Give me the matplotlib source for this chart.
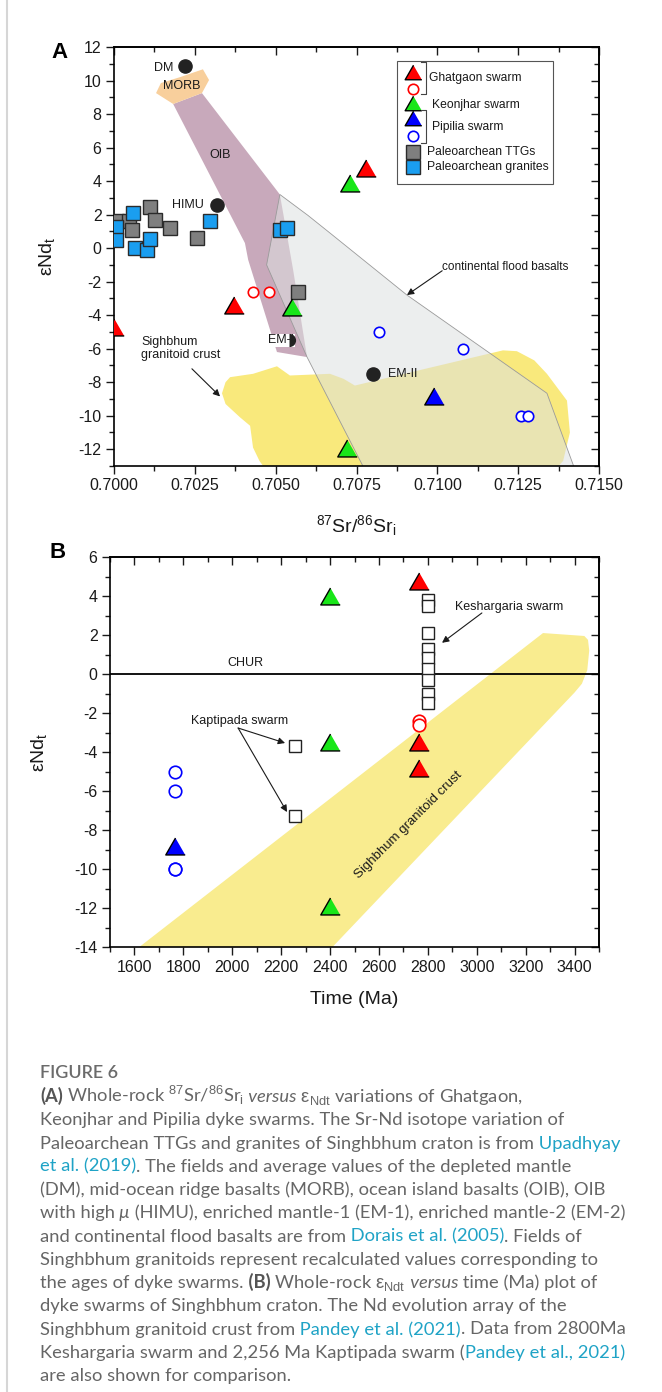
import numpy as np
import matplotlib.pyplot as plt
from matplotlib.patches import Polygon, Rectangle
from matplotlib.lines import Line2D
from matplotlib.ticker import MultipleLocator, FormatStrFormatter

plt.rcParams['font.family'] = ['Liberation Sans', 'DejaVu Sans']
plt.rcParams['mathtext.fontset'] = 'custom'
plt.rcParams['mathtext.rm'] = 'Liberation Sans'
plt.rcParams['mathtext.it'] = 'Liberation Sans:italic'
plt.rcParams['mathtext.bf'] = 'Liberation Sans:bold'
plt.rcParams['axes.unicode_minus'] = False

# ---------------- (A) 87Sr/86Sr_i vs eNd_t ----------------
ghat_tri_sr = [0.7078, 0.7037, 0.7000]
ghat_tri_nd = [4.8, -3.4, -4.7]
ghat_ring_sr = [0.7043, 0.7048]
ghat_ring_nd = [-2.6, -2.6]
keon_sr = [0.7073, 0.7055, 0.7072]
keon_nd = [3.9, -3.5, -11.9]
pip_tri_sr = [0.7099]
pip_tri_nd = [-8.8]
pip_ring_sr = [0.7082, 0.7108, 0.7126, 0.7128]
pip_ring_nd = [-5.0, -6.0, -10.0, -10.0]
ttg_sr = [0.7001, 0.70045, 0.70055, 0.70111, 0.70127, 0.70173, 0.70256, 0.70569]
ttg_nd = [1.6, 1.6, 1.1, 2.45, 1.7, 1.2, 0.6, -2.6]
gran_sr = [0.70005, 0.70005, 0.70058, 0.70065, 0.70101, 0.70111, 0.70297, 0.70513, 0.70535]
gran_nd = [1.25, 0.5, 2.1, 0.0, -0.1, 0.55, 1.6, 1.1, 1.2]

# mantle end-members
dm = (0.7022, 10.85)
himu = (0.7032, 2.6)
em1 = (0.7054, -5.5)
em2 = (0.7080, -7.5)

# fields
morb_sr = [0.7013, 0.70145, 0.70204, 0.70275, 0.70294, 0.70272, 0.70183]
morb_nd = [9.25, 9.85, 10.2, 10.67, 10.03, 9.25, 8.6]
oib_sr = [0.70183, 0.70272, 0.70513, 0.70554, 0.70597, 0.70504, 0.70415, 0.70405]
oib_nd = [8.6, 9.25, 3.2, -1.3, -6.5, -6.2, -0.7, 0.3]
cfb_sr = [0.70513, 0.70600, 0.70668, 0.70906, 0.71339, 0.71431, 0.70783, 0.70597, 0.70472]
cfb_nd = [3.2, 1.95, 0.9, -2.8, -8.66, -13.5, -13.5, -6.5, -1.0]
crust_sr = [0.70334, 0.70345, 0.70359, 0.7043, 0.70504, 0.70544, 0.70668, 0.70710, 0.70745,
            0.71203, 0.71246, 0.71300, 0.71339, 0.71401, 0.71410, 0.71389, 0.7135,
            0.70480, 0.70450, 0.7043, 0.70421, 0.7039, 0.70345]
crust_nd = [-8.66, -8.0, -7.7, -7.5, -7.05, -7.6, -7.5, -7.8, -8.2,
            -6.1, -6.15, -6.7, -7.5, -9.1, -11.0, -12.7, -13.5,
            -13.5, -12.7, -11.9, -10.6, -10.1, -9.3]

# ---------------- (B) eNd_t vs time ----------------
ghat_age = 2762
ghat_tri_b = [4.75, -3.5, -4.8]
ghat_ring_b = [-2.4, -2.6]
keon_age = 2400
keon_b = [4.0, -3.5, -11.9]
pip_age = 1765
pip_tri_b = [-8.8]
pip_ring_b = [-5.0, -6.0, -10.0, -10.0]
kesh_age = 2800
kesh_nd = [3.8, 3.5, 2.1, 1.3, 0.8, 0.25, -0.3, -1.0, -1.5]
kapt_age = 2256
kapt_nd = [-3.7, -7.3]
band_age = [1620, 3271, 3440, 3455, 3460, 3452, 3430, 3400, 2410]
band_nd = [-14, 2.1, 1.95, 1.75, 1.2, 0.2, -0.5, -0.95, -14]

RED, GREEN, BLUE = '#ff0000', '#19e619', '#0000ff'
TTG_C, GRAN_C = '#7f7f7f', '#1a9ef0'
DARK = '#1a1a1a'
TRI = [(0, 0.87), (-1, -0.87), (1, -0.87)]

W, H = 662, 1392
fig = plt.figure(figsize=(W / 100, H / 100), dpi=100)


def box(l, t, r, b):
    return [l / W, 1 - b / H, (r - l) / W, (b - t) / H]


def frame(ax, xmaj, xmin, ymaj, ymin):
    ax.xaxis.set_major_locator(MultipleLocator(xmaj))
    ax.xaxis.set_minor_locator(MultipleLocator(xmin))
    ax.yaxis.set_major_locator(MultipleLocator(ymaj))
    ax.yaxis.set_minor_locator(MultipleLocator(ymin))
    ax.tick_params(which='both', direction='out', width=1.0, color=DARK,
                   labelsize=11.5, labelcolor=DARK, pad=3)
    ax.tick_params(which='major', length=6)
    ax.tick_params(which='minor', length=3.5)
    for s in ax.spines.values():
        s.set_linewidth(1.2)
    top = ax.secondary_xaxis('top')
    top.xaxis.set_major_locator(MultipleLocator(xmaj))
    top.xaxis.set_minor_locator(MultipleLocator(xmin))
    right = ax.secondary_yaxis('right')
    right.yaxis.set_major_locator(MultipleLocator(ymaj))
    right.yaxis.set_minor_locator(MultipleLocator(ymin))
    for sec in (top, right):
        sec.tick_params(which='both', direction='in', width=1.0, color=DARK,
                        labeltop=False, labelright=False)
        sec.tick_params(which='major', length=6)
        sec.tick_params(which='minor', length=3.5)
        for s in sec.spines.values():
            s.set_linewidth(1.2)


arrow = dict(arrowstyle='-|>', lw=0.8, color=DARK, mutation_scale=10,
             shrinkA=0, shrinkB=0)

# ================= panel A =================
axA = fig.add_axes(box(114, 47, 599, 466))
axA.set_xlim(0.7000, 0.7150)
axA.set_ylim(-13, 12)
frame(axA, 0.0025, 0.00125, 2, 1)
axA.xaxis.set_major_formatter(FormatStrFormatter('%.4f'))

axA.add_patch(Polygon(list(zip(crust_sr, crust_nd)), closed=True, fc='#f9e97c', ec='none', zorder=1))
axA.add_patch(Polygon(list(zip(oib_sr, oib_nd)), closed=True, fc='#c8a9bb', ec='none', zorder=1.2))
axA.add_patch(Polygon(list(zip(morb_sr, morb_nd)), closed=True, fc='#f8cf9c', ec='none', zorder=1.3))
axA.add_patch(Polygon(list(zip(cfb_sr, cfb_nd)), closed=True, fc='#dde0e0', ec='none', alpha=0.55, zorder=1.5))
axA.add_patch(Polygon(list(zip(cfb_sr, cfb_nd)), closed=True, fill=False, ec='#9a9a9a', lw=0.6, zorder=1.6))

axA.plot(ttg_sr, ttg_nd, 's', ms=9.5, mfc=TTG_C, mec='#2b2b2b', mew=1.0, zorder=3)
axA.plot(gran_sr, gran_nd, 's', ms=9.5, mfc=GRAN_C, mec='#2b2b2b', mew=1.0, zorder=3.1)
axA.plot(ghat_ring_sr, ghat_ring_nd, 'o', ms=7.5, mfc='white', mec=RED, mew=1.2, zorder=3)
axA.plot(pip_ring_sr, pip_ring_nd, 'o', ms=7.5, mfc='white', mec=BLUE, mew=1.2, zorder=3)
axA.plot(ghat_tri_sr, ghat_tri_nd, marker=TRI, ls='none', ms=14, mfc=RED, mec='black', mew=1.0, zorder=4)
axA.plot(keon_sr, keon_nd, marker=TRI, ls='none', ms=14, mfc=GREEN, mec='black', mew=1.0, zorder=4)
axA.plot(pip_tri_sr, pip_tri_nd, marker=TRI, ls='none', ms=14, mfc=BLUE, mec='black', mew=1.0, zorder=4)

for pt in (dm, himu, em2):
    axA.plot(*pt, 'o', ms=9.5, color='#222222', zorder=4)
axA.text(0.70183, 10.75, 'DM', fontsize=9, ha='right', va='center', color=DARK, zorder=5)
axA.text(0.7021, 9.7, 'MORB', fontsize=9, ha='center', va='center', color=DARK, zorder=5)
axA.text(0.70328, 5.55, 'OIB', fontsize=9, ha='center', va='center', color=DARK, zorder=5)
axA.text(0.70278, 2.6, 'HIMU', fontsize=9, ha='right', va='center', color=DARK, zorder=5)
axA.text(0.70557, -5.5, 'EM-I', fontsize=9, ha='right', va='center', color=DARK, zorder=3,
         bbox=dict(fc='white', ec='none', pad=0.5))
axA.plot(*em1, 'o', ms=9.5, color='#222222', fillstyle='right', mew=0, zorder=4)
axA.text(0.70848, -7.5, 'EM-II', fontsize=9, ha='left', va='center', color=DARK, zorder=5)

axA.text(0.71015, -1.13, 'continental flood basalts', fontsize=8.5, ha='left', va='center', color=DARK)
axA.annotate('', xy=(0.70906, -2.8), xytext=(0.71015, -1.35), arrowprops=arrow)
axA.text(0.70084, -6.0, 'Sighbhum\ngranitoid crust', fontsize=9, ha='left', va='center',
         color=DARK, linespacing=1.15)
axA.annotate('', xy=(0.70328, -8.85), xytext=(0.70241, -7.2), arrowprops=arrow)

axA.set_xlabel(r'$^{87}$Sr/$^{86}$Sr$_\mathrm{i}$', fontsize=14, color=DARK)
axA.xaxis.set_label_coords(0.5, -0.113)
axA.set_ylabel(r'εNd$_\mathrm{t}$', fontsize=14, color=DARK)
axA.yaxis.set_label_coords(-0.118, 0.5)

# legend box
tA = axA.transAxes
axA.add_patch(Rectangle((0.583, 0.673), 0.322, 0.294, transform=tA, fc='white',
                        ec='#555555', lw=0.8, zorder=6))
leg_rows = [
    (0.940, dict(marker=TRI, ms=12, mfc=RED, mec='black')),
    (0.900, dict(marker='o', ms=7.5, mfc='white', mec=RED, mew=1.2)),
    (0.866, dict(marker=TRI, ms=12, mfc=GREEN, mec='black')),
    (0.831, dict(marker=TRI, ms=12, mfc=BLUE, mec='black')),
    (0.788, dict(marker='o', ms=7.5, mfc='white', mec=BLUE, mew=1.2)),
    (0.749, dict(marker='s', ms=9.5, mfc=TTG_C, mec='#2b2b2b')),
    (0.714, dict(marker='s', ms=9.5, mfc=GRAN_C, mec='#2b2b2b')),
]
for fy, kw in leg_rows:
    axA.plot([0.617], [fy], ls='none', transform=tA, clip_on=False, zorder=7, **kw)
for fx, fy, lab in [(0.650, 0.926, 'Ghatgaon swarm'), (0.655, 0.862, 'Keonjhar swarm'),
                    (0.655, 0.809, 'Pipilia swarm'), (0.645, 0.749, 'Paleoarchean TTGs'),
                    (0.645, 0.714, 'Paleoarchean granites')]:
    axA.text(fx, fy, lab, transform=tA, fontsize=8.7, ha='left', va='center', color=DARK, zorder=7)
for y0, y1 in [(0.964, 0.888), (0.850, 0.771)]:
    axA.plot([0.634, 0.643, 0.643, 0.634], [y0, y0, y1, y1], color='#444444', lw=0.8,
             transform=tA, clip_on=False, zorder=7)

# ================= panel B =================
axB = fig.add_axes(box(110, 557, 599, 947))
axB.set_xlim(1500, 3500)
axB.set_ylim(-14, 6)
frame(axB, 200, 100, 2, 1)

axB.add_patch(Polygon(list(zip(band_age, band_nd)), closed=True, fc='#f9ec8f', ec='none', zorder=1))
axB.axhline(0, color='black', lw=1.3, zorder=2)
axB.text(2052, 0.56, 'CHUR', fontsize=9, ha='center', va='center', color=DARK)
axB.text(2719, -7.74, 'Sighbhum granitoid crust', fontsize=9.5, rotation=45,
         ha='center', va='center', color=DARK, zorder=2)

axB.plot(np.full(len(kesh_nd), kesh_age), kesh_nd, 's', ms=8, mfc='white', mec='#222222', mew=1.0, zorder=3)
axB.plot(np.full(len(kapt_nd), kapt_age), kapt_nd, 's', ms=8, mfc='white', mec='#222222', mew=1.0, zorder=3)
axB.plot(np.full(len(ghat_ring_b), ghat_age), ghat_ring_b, 'o', ms=9, mfc='white', mec=RED, mew=1.2, zorder=3)
axB.plot(np.full(len(pip_ring_b), pip_age), pip_ring_b, 'o', ms=9, mfc='white', mec=BLUE, mew=1.2, zorder=3)
axB.plot(np.full(len(ghat_tri_b), ghat_age), ghat_tri_b, marker=TRI, ls='none', ms=14,
         mfc=RED, mec='black', mew=1.0, zorder=4)
axB.plot(np.full(len(keon_b), keon_age), keon_b, marker=TRI, ls='none', ms=14,
         mfc=GREEN, mec='black', mew=1.0, zorder=4)
axB.plot(np.full(len(pip_tri_b), pip_age), pip_tri_b, marker=TRI, ls='none', ms=14,
         mfc=BLUE, mec='black', mew=1.0, zorder=4)

axB.text(2911, 3.44, 'Keshargaria swarm', fontsize=9, ha='left', va='center', color=DARK)
axB.annotate('', xy=(2858, 1.6), xytext=(3021, 3.13), arrowprops=arrow)
axB.text(2028, -2.4, 'Kaptipada swarm', fontsize=9, ha='center', va='center', color=DARK)
axB.annotate('', xy=(2216, -3.54), xytext=(2024, -2.77), arrowprops=arrow)
axB.annotate('', xy=(2224, -7.08), xytext=(2024, -2.77), arrowprops=arrow)

axB.set_xlabel('Time (Ma)', fontsize=14, color=DARK)
axB.xaxis.set_label_coords(0.5, -0.112)
axB.set_ylabel(r'εNd$_\mathrm{t}$', fontsize=14, color=DARK)
axB.yaxis.set_label_coords(-0.125, 0.5)

fig.text(60 / W, 1 - 53 / H, 'A', fontsize=16, fontweight='bold', ha='center', va='center')
fig.text(58 / W, 1 - 552 / H, 'B', fontsize=16, fontweight='bold', ha='center', va='center')

# page border on the left
fig.add_artist(Line2D([7 / W, 7 / W], [0, 1], color='#d6d6d6', lw=1.5))

# ================= caption =================
GREY, TEAL = '#666666', '#1fa3c6'
caption_lines = [
    [('(A)', 'b'), (r' Whole-rock $^{87}$Sr/$^{86}$Sr$_\mathrm{i}$', 'n'), (' versus', 'i'),
     (r' $\mathrm{ε}_\mathrm{Ndt}$ variations of Ghatgaon,', 'n')],
    [('Keonjhar and Pipilia dyke swarms. The Sr-Nd isotope variation of', 'n')],
    [('Paleoarchean TTGs and granites of Singhbhum craton is from', 'n'), (' Upadhyay', 'l')],
    [('et al. (2019)', 'l'), ('. The fields and average values of the depleted mantle', 'n')],
    [('(DM), mid-ocean ridge basalts (MORB), ocean island basalts (OIB), OIB', 'n')],
    [('with high', 'n'), (' μ', 'i'), (' (HIMU), enriched mantle-1 (EM-1), enriched mantle-2 (EM-2)', 'n')],
    [('and continental flood basalts are from', 'n'), (' Dorais et al. (2005)', 'l'), ('. Fields of', 'n')],
    [('Singhbhum granitoids represent recalculated values corresponding to', 'n')],
    [('the ages of dyke swarms.', 'n'), (' (B)', 'b'), (r' Whole-rock $\mathrm{ε}_\mathrm{Ndt}$', 'n'),
     (' versus', 'i'), (' time (Ma) plot of', 'n')],
    [('dyke swarms of Singhbhum craton. The Nd evolution array of the', 'n')],
    [('Singhbhum granitoid crust from', 'n'), (' Pandey et al. (2021)', 'l'), ('. Data from 2800Ma', 'n')],
    [('Keshargaria swarm and 2,256 Ma Kaptipada swarm (', 'n'), ('Pandey et al., 2021)', 'l')],
    [('are also shown for comparison.', 'n')],
]
seg_style = {
    'n': dict(color=GREY, fontweight='normal'),
    'b': dict(color='#555555', fontweight='bold'),
    'i': dict(color=GREY, fontweight='normal', style='italic'),
    'l': dict(color=TEAL, fontweight='normal'),
}
cap = fig.add_axes([0, 0, 1, 1])
cap.set_axis_off()
cap.set_xlim(0, 1)
cap.set_ylim(0, 1)
cap.text(40 / W, 1 - 1078 / H, 'FIGURE 6', fontsize=13, fontweight='semibold',
         color='#6b6b6b', family=['Lato', 'DejaVu Sans'], va='baseline')
x0, base0, step, cap_fs = 40 / W, 1102, 23.25, 13.2
for i, segs in enumerate(caption_lines):
    yb = 1 - (base0 + i * step) / H
    prev = None
    for txt, kind in segs:
        kw = dict(fontsize=cap_fs, family=['Lato', 'DejaVu Sans'], va='baseline', ha='left')
        kw.update(seg_style[kind])
        if prev is None:
            prev = cap.text(x0, yb, txt, **kw)
        else:
            prev = cap.annotate(txt, xy=(1, yb), xycoords=(prev, 'figure fraction'), **kw)

fig.savefig('out.png', dpi=100)
